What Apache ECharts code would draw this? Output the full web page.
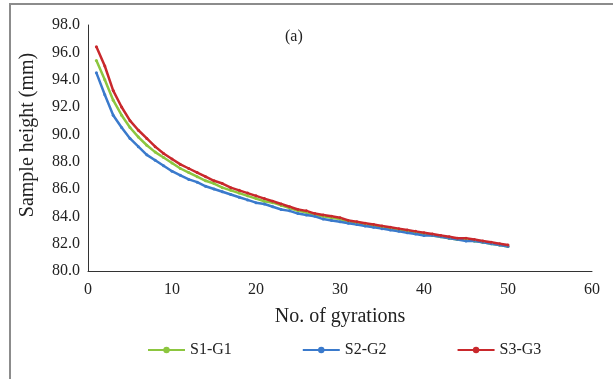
<!DOCTYPE html>
<html>
<head>
<meta charset="utf-8">
<script src="https://cdn.jsdelivr.net/npm/echarts@6/dist/echarts.min.js"></script>
<style>
  html, body { margin: 0; padding: 0; background: #fff; }
  #chart { width: 613px; height: 379px; }
</style>
</head>
<body>
<div id="chart"></div>
<script>
const gyrations = Array.from({ length: 50 }, (_, i) => i + 1);

const s1g1 = [95.4, 94.0, 92.5, 91.4, 90.5, 89.8, 89.2, 88.7, 88.3, 87.9,
  87.5, 87.2, 86.9, 86.6, 86.4, 86.1, 85.9, 85.7, 85.5, 85.3,
  85.1, 85.0, 84.8, 84.6, 84.4, 84.3, 84.1, 84.0, 83.9, 83.8,
  83.6, 83.5, 83.4, 83.3, 83.2, 83.1, 83.0, 82.9, 82.8, 82.7,
  82.6, 82.5, 82.4, 82.3, 82.3, 82.2, 82.1, 82.0, 81.9, 81.8];

const s2g2 = [94.5, 92.9, 91.4, 90.5, 89.7, 89.1, 88.5, 88.1, 87.7, 87.3,
  87.0, 86.7, 86.5, 86.2, 86.0, 85.8, 85.6, 85.4, 85.2, 85.0,
  84.9, 84.7, 84.5, 84.4, 84.2, 84.1, 84.0, 83.8, 83.7, 83.6,
  83.5, 83.4, 83.3, 83.2, 83.1, 83.0, 82.9, 82.8, 82.7, 82.6,
  82.6, 82.5, 82.4, 82.3, 82.2, 82.2, 82.1, 82.0, 81.9, 81.8];

const s3g3 = [96.4, 95.0, 93.2, 92.0, 91.0, 90.3, 89.7, 89.1, 88.6, 88.2,
  87.8, 87.5, 87.2, 86.9, 86.6, 86.4, 86.1, 85.9, 85.7, 85.5,
  85.3, 85.1, 84.9, 84.7, 84.5, 84.4, 84.2, 84.1, 84.0, 83.9,
  83.7, 83.6, 83.5, 83.4, 83.3, 83.2, 83.1, 83.0, 82.9, 82.8,
  82.7, 82.6, 82.5, 82.4, 82.4, 82.3, 82.2, 82.1, 82.0, 81.9];

const seriesNames = ["S1-G1", "S2-G2", "S3-G3"];
const seriesColors = ["#8cc63f", "#3a7acc", "#c9282c"];
const seriesValues = [s1g1, s2g2, s3g3];

const chart = echarts.init(document.getElementById("chart"));
const font = "Liberation Serif";

chart.setOption({
  animation: false,
  textStyle: { fontFamily: font },
  title: {
    text: "(a)",
    left: 280,
    top: 24,
    textStyle: { fontFamily: font, fontSize: 16, fontWeight: "normal", color: "#222" },
  },
  graphic: [
    {
      type: "rect",
      shape: { x: 10, y: 4, width: 700, height: 500 },
      style: { fill: "none", stroke: "#8c8c8c", lineWidth: 2 },
      silent: true,
    },
  ],
  legend: {
    top: 337,
    left: 142,
    itemWidth: 37,
    itemHeight: 8,
    itemGap: 70,
    textStyle: { fontFamily: font, fontSize: 16, color: "#222" },
    data: seriesNames,
  },
  grid: { left: 88, right: 21, top: 25, bottom: 108 },
  xAxis: {
    type: "value",
    min: 0,
    max: 60,
    interval: 10,
    name: "No. of gyrations",
    nameLocation: "middle",
    nameGap: 36,
    nameTextStyle: { fontFamily: font, fontSize: 20, color: "#222" },
    axisLine: { lineStyle: { color: "#333", width: 1 } },
    axisTick: { show: false },
    splitLine: { show: false },
    axisLabel: { fontFamily: font, fontSize: 16, color: "#222", margin: 11 },
  },
  yAxis: {
    type: "value",
    min: 80,
    max: 98,
    interval: 2,
    name: "Sample height (mm)",
    nameLocation: "middle",
    nameGap: 50,
    nameTextStyle: { fontFamily: font, fontSize: 20, color: "#222", padding: [0, 0, 0, 26] },
    axisLine: { show: true, lineStyle: { color: "#333", width: 1 } },
    axisTick: { show: false },
    splitLine: { show: false },
    axisLabel: {
      fontFamily: font,
      fontSize: 16,
      color: "#222",
      margin: 8,
      formatter: (v) => v.toFixed(1),
    },
  },
  series: seriesNames.map((name, i) => ({
    name,
    type: "line",
    symbol: "circle",
    symbolSize: 3,
    showSymbol: true,
    color: seriesColors[i],
    lineStyle: { width: 2.5, color: seriesColors[i] },
    itemStyle: { color: seriesColors[i] },
    data: gyrations.map((g, j) => [g, seriesValues[i][j]]),
  })),
});
</script>
</body>
</html>
